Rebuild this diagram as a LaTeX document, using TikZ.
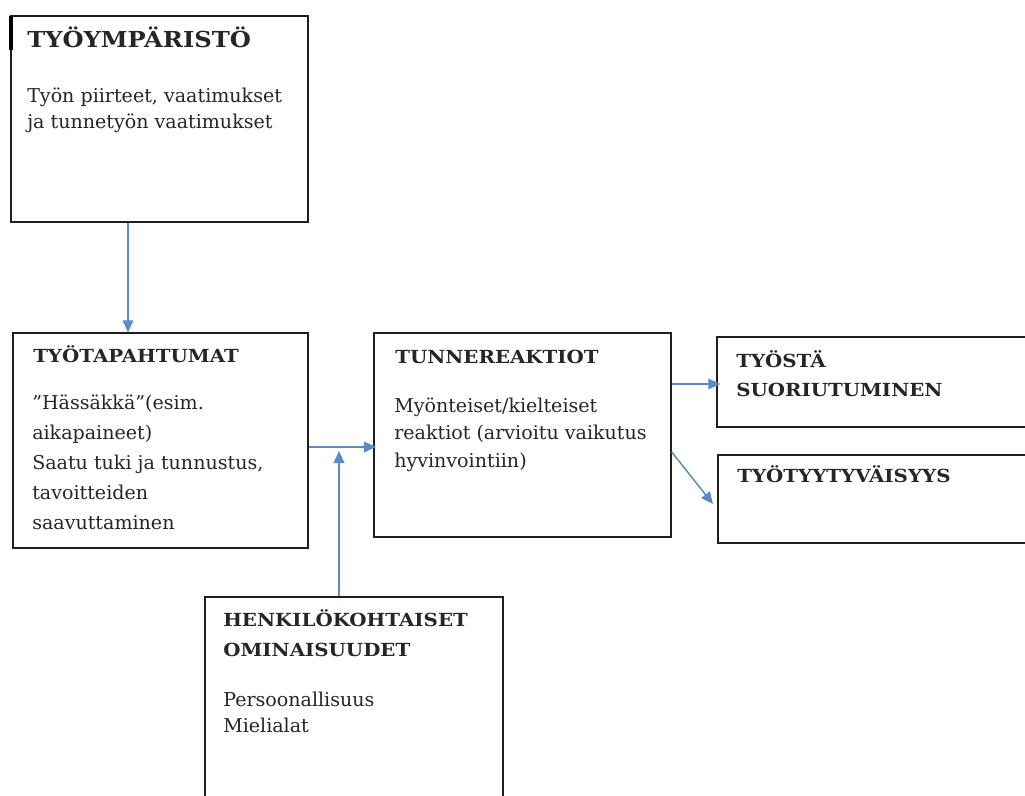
\documentclass[tikz,border=0pt]{standalone}
\usepackage{fontspec}
\setmainfont{DejaVu Serif}
\newfontfamily\titlefont[FakeStretch=1.1]{DejaVu Serif}
\usetikzlibrary{arrows.meta,fit}
\definecolor{arrowblue}{RGB}{92,138,196}
\definecolor{boxline}{RGB}{30,30,30}
\begin{document}
\begin{tikzpicture}[x=0.75pt,y=-0.75pt,
  box/.style={draw=boxline,line width=1.1pt,rectangle,inner sep=0pt},
  arr/.style={draw=arrowblue,line width=1.1pt,-{Triangle[length=9pt,width=8pt]}},
  ttl/.style={font=\titlefont\bfseries\fontsize{13.5}{21.75}\selectfont,anchor=base west,inner sep=0pt,align=left,text=black!85},
  bigttl/.style={font=\titlefont\bfseries\fontsize{16.5}{20}\selectfont,anchor=base west,inner sep=0pt,align=left,text=black!85},
  txt/.style={font=\fontsize{14.3}{19.5}\selectfont,anchor=base west,inner sep=0pt,align=left,text=black!85}]
\clip (0,0) rectangle (1025,796);
\fill[white] (0,0) rectangle (1025,796);
% boxes
\node[box,fit={(11,16) (308,222)}] (b1) {};
\node[box,fit={(13,333) (308,548)}] (b2) {};
\node[box,fit={(374,333) (671,537)}] (b3) {};
\node[box,fit={(717,337) (1040,427)}] (b4) {};
\node[box,fit={(718,455) (1040,543)}] (b5) {};
\node[box,fit={(205,597) (503,830)}] (b6) {};
\draw[line width=3pt,black] (11,16) -- (11,50);
% texts (base = baseline of last line)
\node[bigttl] (t1) at (27,47) {TYÖYMPÄRISTÖ};
\node[txt] (x1) at (27,128) {Työn piirteet, vaatimukset\\ja tunnetyön vaatimukset};
\node[ttl] (t2) at (33,362) {TYÖTAPAHTUMAT};
\node[txt,font=\fontsize{14.3}{22.5}\selectfont] (x2) at (32,529) {”Hässäkkä”(esim.\\aikapaineet)\\Saatu tuki ja tunnustus,\\tavoitteiden\\saavuttaminen};
\node[ttl] (t3) at (395,363) {TUNNEREAKTIOT};
\node[txt,font=\fontsize{14.3}{20.6}\selectfont] (x3) at (394,467) {Myönteiset/kielteiset\\reaktiot (arvioitu vaikutus\\hyvinvointiin)};
\node[ttl] (t4) at (736,396) {TYÖSTÄ\\SUORIUTUMINEN};
\node[ttl] (t5) at (737,482) {TYÖTYYTYVÄISYYS};
\node[ttl,font=\titlefont\bfseries\fontsize{13.5}{22.5}\selectfont] (t6) at (223,656) {HENKILÖKOHTAISET\\OMINAISUUDET};
\node[txt] (x6) at (223,732) {Persoonallisuus\\Mielialat};
% connectors
\coordinate (c1) at (128,0);
\coordinate (c2) at (0,447);
\coordinate (c3) at (339,451);
\coordinate (c4) at (0,384);
\coordinate (c5s) at (0,452);
\coordinate (c5) at (713,504);
\draw[arr] (b1.south -| c1) -- (b2.north -| c1);
\draw[arr] (b2.east |- c2) -- ([xshift=2pt]b3.west |- c2);
\draw[arr] (b6.north -| c3) -- (c3);
\draw[arr] (b3.east |- c4) -- ([xshift=3pt]b4.west |- c4);
\draw[arr] (b3.east |- c5s) -- (c5);
\end{tikzpicture}
\end{document}
